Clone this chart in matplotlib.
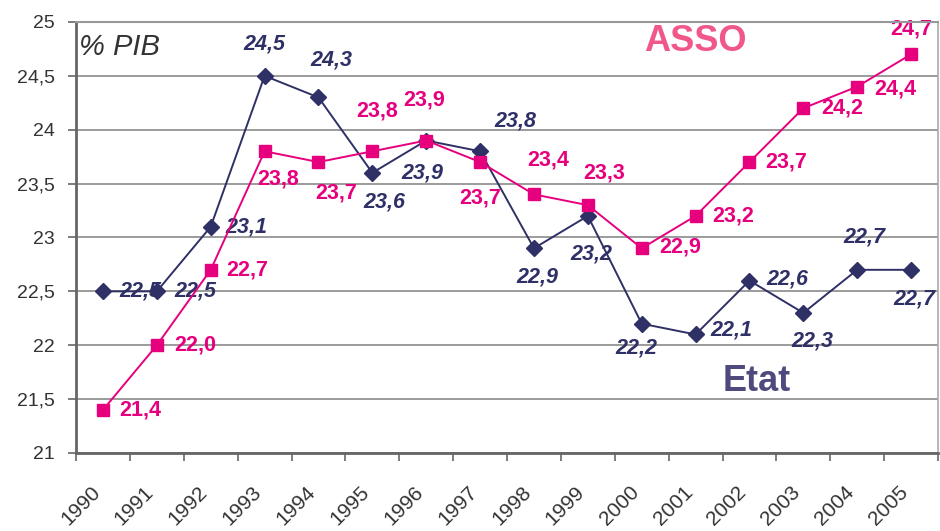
import matplotlib.pyplot as plt
import matplotlib.transforms as mtransforms
import numpy as np

plt.rcParams['font.family'] = ['Liberation Sans', 'DejaVu Sans']

# Data (% of GDP)
years = ['1990', '1991', '1992', '1993', '1994', '1995', '1996', '1997',
         '1998', '1999', '2000', '2001', '2002', '2003', '2004', '2005']
etat = [22.5, 22.5, 23.1, 24.5, 24.3, 23.6, 23.9, 23.8,
        22.9, 23.2, 22.2, 22.1, 22.6, 22.3, 22.7, 22.7]
asso = [21.4, 22.0, 22.7, 23.8, 23.7, 23.8, 23.9, 23.7,
        23.4, 23.3, 22.9, 23.2, 23.7, 24.2, 24.4, 24.7]

# label offsets in pixels (dx, dy), as placed in the original chart
etat_off = [(37, 0), (38, 0), (36, 0), (0, 32), (13, 37), (12, -29), (-4, -32), (35, 30),
            (3, -29), (3, -38), (-5, -24), (36, 4), (38, 2), (9, -28), (7, 33), (3, -29)]
asso_off = [(37, 0), (38, 0), (37, 0), (14, -28), (18, -31), (5, 40), (-2, 41), (0, -36),
            (14, 34), (16, 32), (38, 1), (38, 0), (37, 0), (39, 0), (38, -2), (0, 25)]

ETAT_COL = '#2f3066'
ASSO_COL = '#e6007e'


def fmt(v):
    return ('%.1f' % v).replace('.', ',')


fig = plt.figure(figsize=(9.4, 5.31), dpi=100)
ax = fig.add_axes([0.0809, 0.1469, 0.917, 0.8117])

x = np.arange(len(years))
ax.plot(x, etat, color=ETAT_COL, lw=1.4, marker='D', ms=8, zorder=4)
ax.plot(x, asso, color=ASSO_COL, lw=1.4, marker='s', ms=8.5, zorder=5)

for i, v in enumerate(etat):
    ax.annotate(fmt(v), (i, v), xytext=etat_off[i], textcoords='offset pixels',
                ha='center', va='center', fontsize=15.5, fontweight='bold',
                fontstyle='italic', color=ETAT_COL, zorder=2)
for i, v in enumerate(asso):
    ax.annotate(fmt(v), (i, v), xytext=asso_off[i], textcoords='offset pixels',
                ha='center', va='center', fontsize=15.5, fontweight='bold',
                color=ASSO_COL, zorder=2)

ax.set_xlim(-0.5, len(years) - 0.5)
ax.set_ylim(21, 25)

yt = np.arange(21, 25.01, 0.5)
ax.set_yticks(yt)
ax.set_yticklabels([fmt(t).replace(',0', '') for t in yt], fontsize=14, color='#333333')
ax.tick_params(axis='y', length=5.5, width=1.2, color='#666666', pad=10)
ax.yaxis.grid(True, color='#808080', lw=1.1)
ax.set_axisbelow(True)

# category labels at centres, tick marks at the boundaries
ax.set_xticks(x)
ax.set_xticklabels(years, rotation=45, ha='right', va='center',
                   rotation_mode='anchor', fontsize=15, color='#333333')
ax.tick_params(axis='x', which='major', length=0, pad=26)
shift = mtransforms.ScaledTranslation(-0.06, 0, fig.dpi_scale_trans)
for lab in ax.get_xticklabels():
    lab.set_transform(lab.get_transform() + shift)
ax.set_xticks(np.arange(-0.5, len(years)), minor=True)
ax.tick_params(axis='x', which='minor', length=5.5, width=1.2, color='#666666')

for s in ['left', 'bottom']:
    ax.spines[s].set_color('#666666')
    ax.spines[s].set_linewidth(2)
ax.spines['top'].set_color('#999999')
ax.spines['top'].set_linewidth(1.5)
ax.spines['right'].set_color('#aaaaaa')
ax.spines['right'].set_linewidth(1.2)

ax.text(0.003, 0.975, '% PIB', transform=ax.transAxes, ha='left', va='top',
        fontsize=21, fontstyle='italic', color='#333333')
ax.text(0.718, 0.955, 'ASSO', transform=ax.transAxes, ha='center', va='center',
        fontsize=26, fontweight='bold', color='#f0588a')
ax.text(0.79, 0.165, 'Etat', transform=ax.transAxes, ha='center', va='center',
        fontsize=26, fontweight='bold', color='#4e4a7e')

fig.savefig('out.png', dpi=100)
